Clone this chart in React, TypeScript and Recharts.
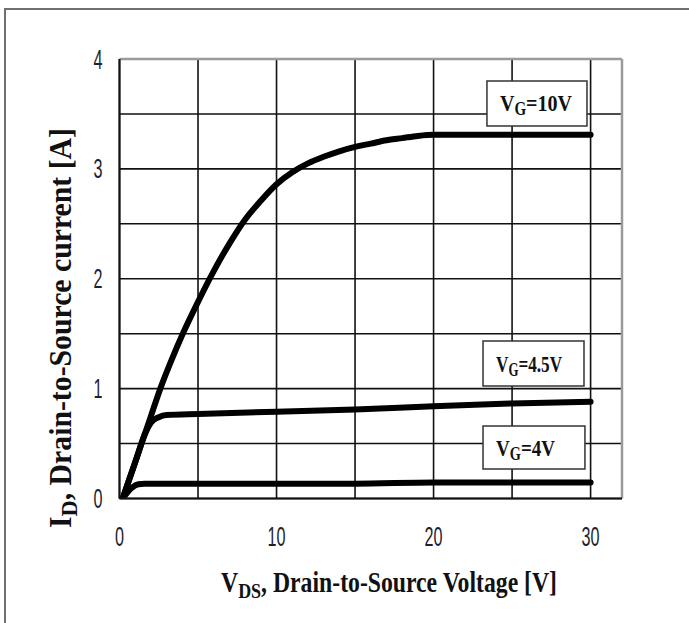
import React from "react";
import {
  LineChart,
  Line,
  XAxis,
  YAxis,
  CartesianGrid,
  ReferenceLine,
  ReferenceArea,
} from "recharts";

// ---- data ----
const vds10 = [0.2, 1, 2, 2.6, 3.2, 4, 5, 6, 7, 8, 9, 10, 11, 12, 13, 14, 15, 16, 17, 18, 19, 20, 25, 30];
const id10 = [0, 0.33, 0.75, 1.0, 1.22, 1.49, 1.79, 2.07, 2.32, 2.54, 2.71, 2.86, 2.97, 3.05, 3.11, 3.16, 3.2, 3.23, 3.26, 3.28, 3.3, 3.31, 3.31, 3.31];

const vds45 = [0.2, 1, 1.6, 2, 2.5, 3, 5, 10, 15, 20, 25, 30];
const id45 = [0, 0.33, 0.58, 0.69, 0.74, 0.76, 0.77, 0.79, 0.81, 0.84, 0.865, 0.88];

const vds4 = [0.2, 0.8, 1.2, 1.6, 5, 10, 15, 20, 25, 30];
const id4 = [0, 0.1, 0.13, 0.135, 0.135, 0.135, 0.135, 0.145, 0.145, 0.145];

const xTicks = [0, 10, 20, 30];
const yTicks = [0, 1, 2, 3, 4];
const gridX = [0, 5, 10, 15, 20, 25, 30];
const gridY = [0, 0.5, 1, 1.5, 2, 2.5, 3, 3.5];

const labelNames = ["=10V", "=4.5V", "=4V"];
const labelX1 = [23.4, 23.15, 23.15];
const labelX2 = [29.77, 29.58, 29.64];
const labelY1 = [3.39, 1.024, 0.268];
const labelY2 = [3.8, 1.433, 0.66];
const labelWidths = [72, 66, 59];

const toRows = (xs: number[], ys: number[]) => xs.map((v, i) => ({ v, i: ys[i] }));
const data10 = toRows(vds10, id10);
const data45 = toRows(vds45, id45);
const data4 = toRows(vds4, id4);

const SERIF = "'Liberation Serif', 'Times New Roman', serif";
const NARROW = "'Liberation Sans Narrow', 'Liberation Sans', 'DejaVu Sans Condensed', sans-serif";

const renderXTick = (p: any) => {
  const s = String(p.payload.value);
  return (
    <text
      key={"x" + s}
      x={p.x}
      y={p.y + 38}
      textAnchor="middle"
      dominantBaseline="central"
      fontFamily={NARROW}
      fontSize={28}
      fill="#1f1f2f"
      textLength={9 * s.length}
      lengthAdjust="spacingAndGlyphs"
    >
      {s}
    </text>
  );
};

const renderYTick = (p: any) => {
  const s = String(p.payload.value);
  return (
    <text
      key={"y" + s}
      x={p.x - 21.5}
      y={p.y}
      textAnchor="middle"
      dominantBaseline="central"
      fontFamily={NARROW}
      fontSize={28}
      fill="#1f1f2f"
      textLength={9 * s.length}
      lengthAdjust="spacingAndGlyphs"
    >
      {s}
    </text>
  );
};

const BoxText = (props: any) => {
  const vb = props.viewBox || {};
  const { rest, w } = props;
  const x = vb.x + 13;
  const y = vb.y + vb.height / 2 + 8;
  return (
    <text
      x={x}
      y={y}
      fontFamily={SERIF}
      fontWeight="bold"
      fontSize={24}
      fill="#111"
      textLength={w}
      lengthAdjust="spacingAndGlyphs"
    >
      <tspan>V</tspan>
      <tspan fontSize={18} dy={4}>G</tspan>
      <tspan dy={-4}>{rest}</tspan>
    </text>
  );
};

export default function App() {
  return (
    <div style={{ position: "absolute", left: 0, top: 0, width: 689, height: 623, background: "#fff", overflow: "hidden" }}>
      <div
        style={{
          position: "absolute",
          left: 4,
          top: 8,
          width: 700,
          height: 640,
          borderLeft: "2px solid #707070",
          borderTop: "2px solid #707070",
        }}
      />
      <div style={{ position: "absolute", left: 0, top: 0 }}>
        <LineChart
          width={689}
          height={623}
          margin={{ top: 59, right: 67, bottom: 84.5, left: 79.5 }}
        >
          <CartesianGrid
            stroke="#111"
            strokeWidth={1.6}
            verticalValues={gridX}
            horizontalValues={gridY}
          />
          <XAxis
            dataKey="v"
            type="number"
            domain={[0, 32]}
            ticks={xTicks}
            height={40}
            tickSize={0}
            tickMargin={0}
            tickLine={false}
            axisLine={{ stroke: "#111", strokeWidth: 2 }}
            tick={renderXTick}
            interval={0}
            allowDataOverflow
          />
          <YAxis
            type="number"
            domain={[0, 4]}
            ticks={yTicks}
            width={40}
            tickSize={0}
            tickMargin={0}
            tickLine={false}
            axisLine={{ stroke: "#111", strokeWidth: 2 }}
            tick={renderYTick}
            interval={0}
            allowDataOverflow
          />
          <ReferenceLine y={4} stroke="#9a9a9a" strokeWidth={2.5} />
          <ReferenceLine x={32} stroke="#9a9a9a" strokeWidth={2.5} />
          {labelNames.map((n, k) => (
            <ReferenceArea
              key={n}
              x1={labelX1[k]}
              x2={labelX2[k]}
              y1={labelY1[k]}
              y2={labelY2[k]}
              fill="#fff"
              fillOpacity={1}
              stroke="#333"
              strokeWidth={1.5}
              label={<BoxText rest={n} w={labelWidths[k]} />}
            />
          ))}
          <Line data={data10} dataKey="i" type="monotone" stroke="#000" strokeWidth={6} dot={false} isAnimationActive={false} strokeLinecap="round" />
          <Line data={data45} dataKey="i" type="monotone" stroke="#000" strokeWidth={6} dot={false} isAnimationActive={false} strokeLinecap="round" />
          <Line data={data4} dataKey="i" type="monotone" stroke="#000" strokeWidth={6} dot={false} isAnimationActive={false} strokeLinecap="round" />
        </LineChart>
      </div>
      <svg width={689} height={623} style={{ position: "absolute", left: 0, top: 0, pointerEvents: "none" }}>
        <text
          x={389}
          y={592}
          textAnchor="middle"
          fontFamily={SERIF}
          fontWeight="bold"
          fontSize={29}
          fill="#111"
          textLength={336}
          lengthAdjust="spacingAndGlyphs"
        >
          <tspan>V</tspan>
          <tspan fontSize={22} dy={6}>DS</tspan>
          <tspan dy={-6}>, Drain-to-Source Voltage [V]</tspan>
        </text>
        <text
          transform="translate(71,328) rotate(-90)"
          x={0}
          y={0}
          textAnchor="middle"
          fontFamily={SERIF}
          fontWeight="bold"
          fontSize={32}
          fill="#111"
          textLength={400}
          lengthAdjust="spacingAndGlyphs"
        >
          <tspan>I</tspan>
          <tspan fontSize={24} dy={6}>D</tspan>
          <tspan dy={-6}>, Drain-to-Source current [A]</tspan>
        </text>
      </svg>
    </div>
  );
}
